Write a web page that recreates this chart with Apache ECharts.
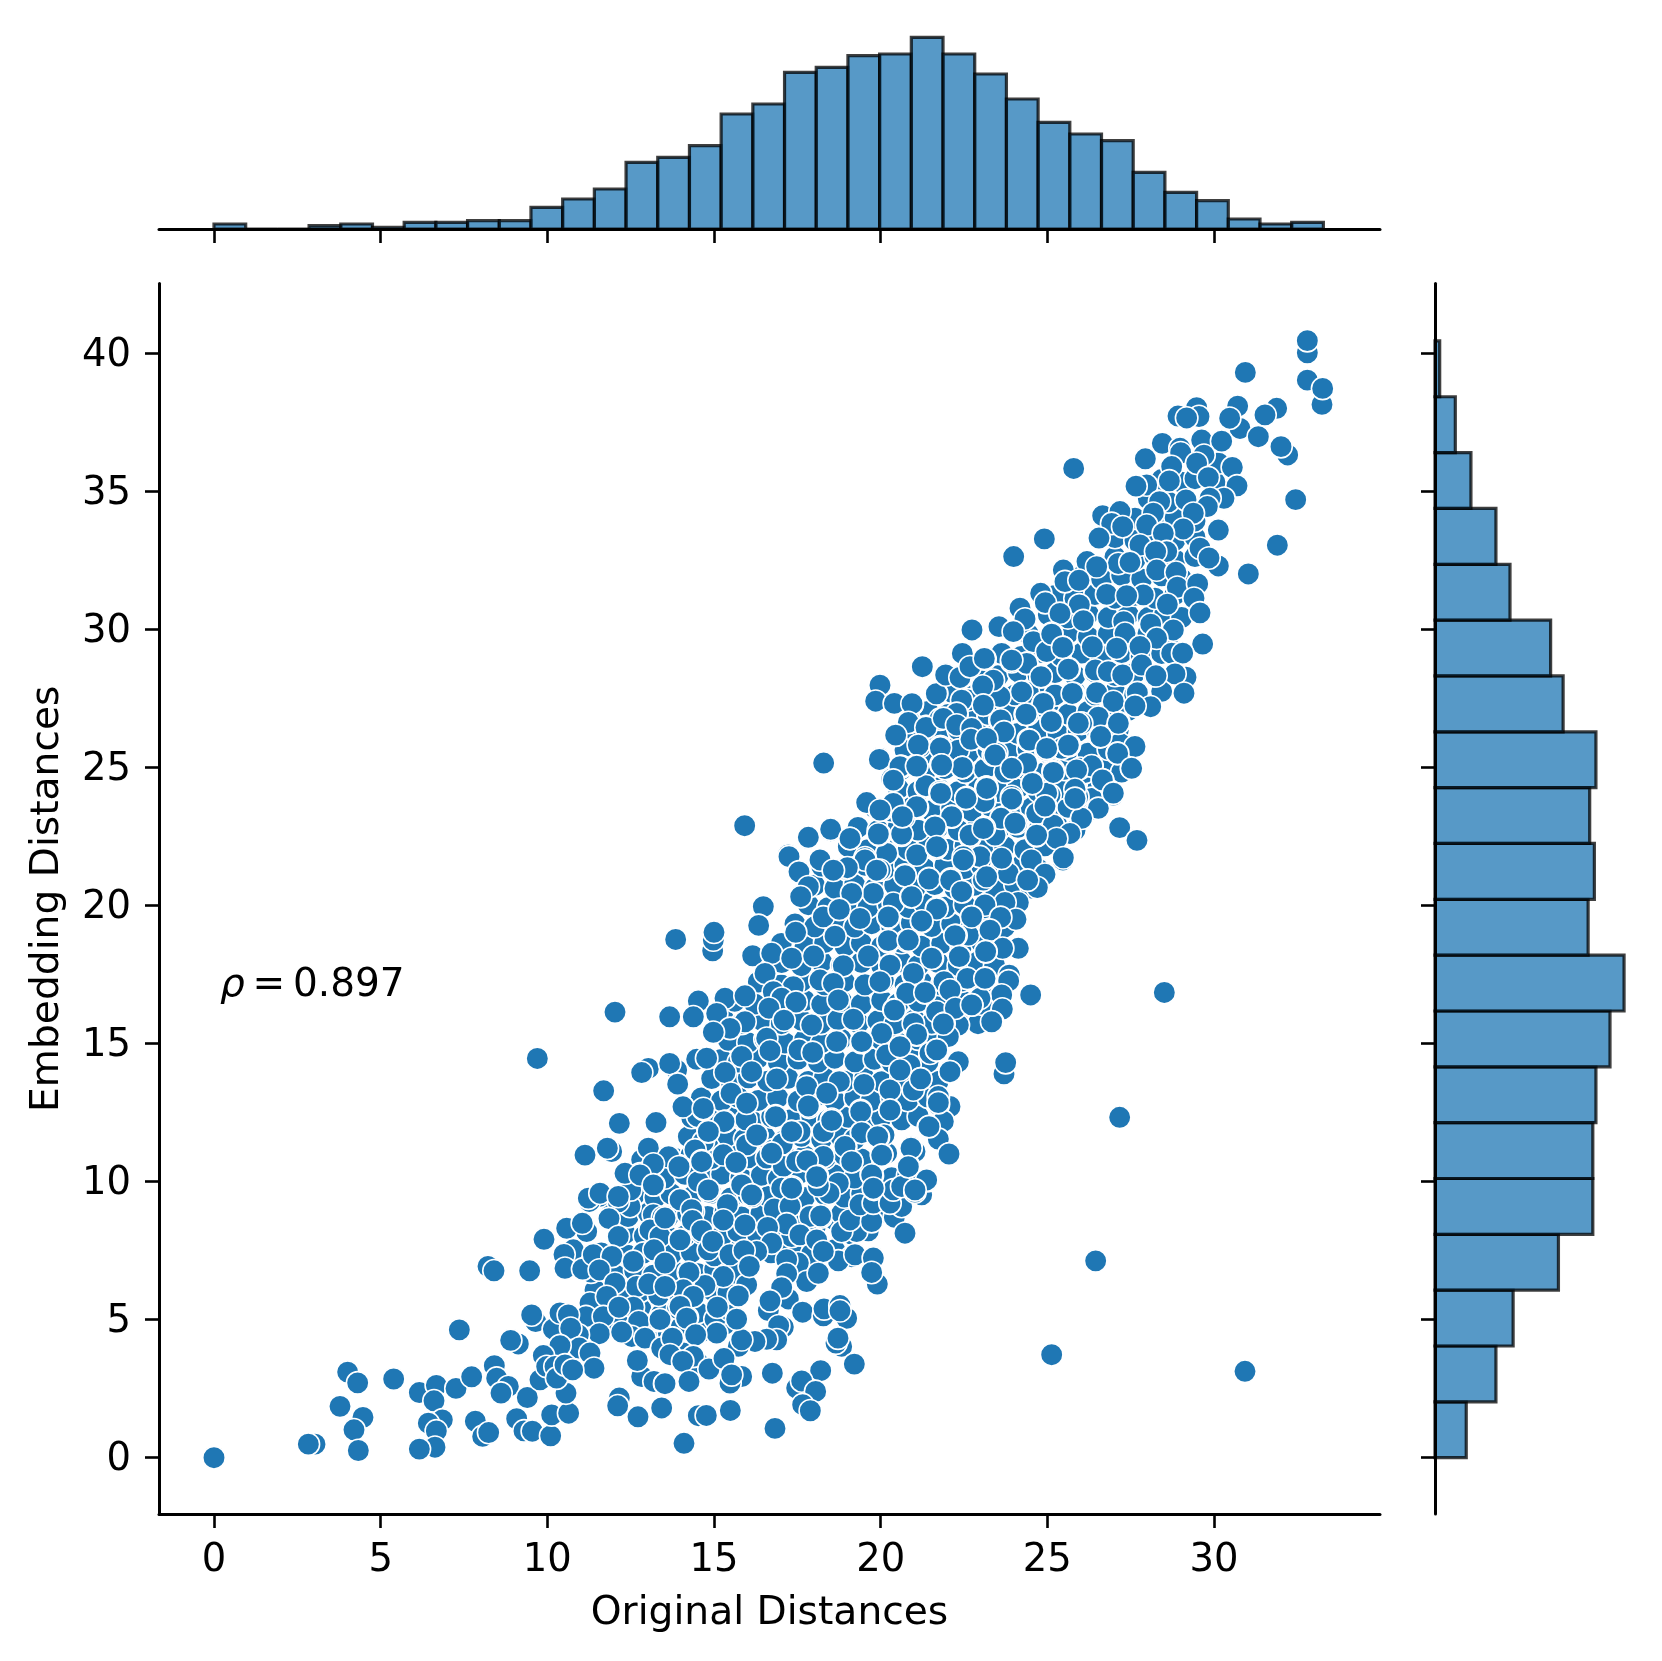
<!DOCTYPE html>
<html><head><meta charset="utf-8">
<style>html,body{margin:0;padding:0;background:#fff}#c{width:1662px;height:1661px}</style>
<script src="https://cdn.jsdelivr.net/npm/echarts@6/dist/echarts.min.js"></script>
</head><body><div id="c"></div>
<script>
const xTickValues=[0,5,10,15,20,25,30];
const yTickValues=[0,5,10,15,20,25,30,35,40];
const xLabel='Original Distances';
const yLabel='Embedding Distances';
const rhoValue='0.897';
const topBinWidth=0.9509;
const rightBinWidth=2.0225;
const topCounts=[3,0,0,2,3,1,4,4,5,5,13,18,24,40,43,50,69,75,94,97,104,105,115,105,93,78,64,57,53,34,22,17,6,3,4];
const rightCounts=[20,39,50,79,101,101,103,112,121,98,102,99,103,82,74,48,39,23,13,3];

const ptsDenseLow=[[12.02,4.71],[12.68,4.58],[13.21,4.66],[13.63,4.52],[14.02,4.74],[14.63,4.57],[15.31,4.82],[11.52,5.34],[12.13,5.22],[12.81,5.38],[13.42,5.19],[13.91,5.41],[14.52,5.26],[15.03,5.02],[15.48,5.33],[11.43,6.07],[12.21,5.91],[12.79,6.02],[13.34,5.88],[13.82,6.11],[14.41,5.94],[14.93,6.08],[15.42,5.97],[11.31,6.72],[12.03,6.63],[12.62,6.78],[13.18,6.61],[13.83,6.74],[14.52,6.66],[15.02,6.81],[15.61,6.69],[17.72,6.74],[11.62,7.42],[12.41,7.33],[13.04,7.47],[13.71,7.36],[14.32,7.44],[15.01,7.31],[15.63,7.48],[16.12,7.35],[16.71,7.42],[17.31,7.62],[17.93,7.38],[18.62,7.53],[19.13,7.28],[12.33,8.12],[12.91,8.03],[13.52,8.17],[14.13,8.04],[14.62,8.14],[15.23,8.02],[15.72,8.19],[16.31,8.07],[16.92,8.13],[17.33,8.01],[18.03,8.31],[18.61,8.62],[19.12,8.11],[19.63,8.22],[11.93,8.84],[12.42,8.73],[13.03,8.86],[13.62,8.71],[14.21,8.83],[14.81,8.74],[15.33,8.88],[15.82,8.72],[16.41,8.86],[17.02,8.74],[17.63,8.81],[18.22,8.72],[18.83,8.84],[19.31,8.73],[19.92,8.83],[20.41,8.71],[12.62,9.53],[13.23,9.42],[13.71,9.56],[14.33,9.44],[14.92,9.57],[15.51,9.41],[16.02,9.53],[16.63,9.46],[17.21,9.58],[17.72,9.43],[18.33,9.52],[18.91,9.44],[19.43,9.57],[20.03,9.46],[20.62,9.53],[13.04,10.24],[13.52,10.13],[14.13,10.26],[14.72,10.12],[15.23,10.27],[15.81,10.14],[16.42,10.23],[16.93,10.11],[17.52,10.26],[18.13,10.12],[18.62,10.24],[19.21,10.13],[19.72,10.27],[20.33,10.14],[20.81,10.22],[13.22,10.93],[13.83,10.84],[14.31,10.96],[14.92,10.83],[15.53,10.94],[16.02,10.86],[16.61,10.97],[17.23,10.83],[17.72,10.93],[18.33,10.84],[18.91,10.96],[19.42,10.82],[14.23,11.63],[14.82,11.52],[15.41,11.66],[15.92,11.54],[16.53,11.62],[17.13,11.51],[17.62,11.64],[18.23,11.53],[18.81,11.62],[19.22,11.54],[14.33,12.32],[15.02,12.23],[15.63,12.36],[16.12,12.22],[16.73,12.34],[17.31,12.24],[17.93,12.37],[18.42,12.23],[19.03,12.33],[19.62,12.21],[20.03,12.34],[20.63,12.24],[21.13,12.36],[14.62,13.03],[15.23,12.93],[15.72,13.06],[16.33,12.94],[16.91,13.04],[17.53,12.92],[18.03,13.07],[18.62,12.94],[19.23,13.03],[19.72,12.93],[20.33,13.04],[20.81,12.94],[21.42,13.06],[14.93,13.73],[15.52,13.62],[16.03,13.76],[16.61,13.64],[17.22,13.74],[17.83,13.63],[18.31,13.76],[18.93,13.64],[19.52,13.73],[20.03,13.62],[20.61,13.74],[21.72,13.63]];

const ptsDenseMid=[[15.22,14.42],[15.73,14.33],[16.31,14.46],[16.93,14.32],[17.52,14.44],[18.13,14.33],[18.62,14.47],[19.23,14.34],[19.81,14.43],[20.33,14.32],[20.91,14.46],[21.42,14.33],[15.43,15.12],[16.02,15.03],[16.53,15.16],[17.13,15.02],[17.72,15.14],[18.23,15.03],[18.81,15.16],[19.42,15.04],[20.03,15.13],[20.52,15.02],[21.13,15.16],[21.62,15.04],[15.32,15.83],[15.83,15.73],[16.41,15.86],[17.02,15.72],[17.63,15.84],[18.21,15.73],[18.72,15.87],[19.33,15.74],[19.92,15.83],[20.43,15.72],[21.02,15.86],[21.53,15.73],[22.31,15.84],[22.92,15.72],[15.62,16.53],[16.23,16.43],[17.72,16.56],[18.23,16.42],[18.83,16.54],[19.42,16.43],[20.03,16.57],[20.52,16.44],[21.13,16.53],[21.72,16.42],[22.43,16.56],[23.02,16.43],[16.33,17.23],[17.02,17.12],[17.63,17.26],[18.32,17.13],[18.91,17.24],[19.53,17.13],[20.12,17.27],[20.73,17.14],[21.22,17.23],[21.83,17.12],[22.42,17.26],[23.03,17.13],[17.03,17.93],[17.62,17.82],[18.23,17.96],[18.83,17.83],[19.42,17.94],[20.03,17.82],[20.62,17.96],[21.13,17.83],[21.72,17.93],[22.33,17.82],[22.91,17.96],[23.42,17.83],[17.02,18.63],[17.73,18.52],[18.32,18.66],[18.93,18.53],[19.42,18.64],[20.03,18.52],[20.63,18.66],[21.22,18.53],[21.83,18.63],[22.42,18.52],[23.03,18.66],[23.52,18.53],[17.43,19.33],[18.02,19.23],[18.63,19.36],[19.22,19.22],[19.73,19.34],[20.33,19.23],[20.92,19.37],[21.53,19.24],[22.13,19.33],[22.72,19.22],[23.23,19.36],[23.72,19.23],[17.83,20.03],[18.42,19.92],[19.03,20.06],[19.62,19.93],[20.23,20.04],[20.83,19.93],[21.32,20.06],[21.93,19.94],[22.52,20.03],[23.13,19.92],[23.72,20.06],[18.02,20.73],[18.63,20.62],[19.22,20.76],[19.83,20.63],[20.42,20.74],[21.03,20.63],[21.62,20.76],[22.23,20.62],[22.82,20.73],[23.43,20.63],[24.03,20.76],[24.52,20.63],[18.23,21.43],[18.92,21.33],[19.53,21.46],[20.12,21.32],[20.73,21.44],[21.32,21.33],[21.93,21.46],[22.52,21.34],[23.03,21.43],[23.62,21.32],[24.23,21.46],[24.72,21.33],[19.03,22.13],[19.62,22.02],[20.23,22.16],[20.82,22.03],[21.43,22.14],[22.02,22.03],[22.53,22.16],[23.13,22.03],[23.72,22.13],[24.33,22.02],[24.92,22.16],[19.32,22.83],[19.93,22.72],[20.53,22.86],[21.12,22.73],[21.73,22.84],[22.33,22.73],[22.92,22.86],[23.53,22.73],[24.12,22.83],[24.73,22.72],[25.32,22.86],[25.83,22.73],[19.83,23.53],[20.32,23.42],[20.93,23.56],[21.52,23.43],[22.13,23.54],[22.73,23.43],[23.32,23.56],[23.93,23.43],[24.52,23.53],[25.13,23.42],[25.62,23.56],[26.23,23.43]];

const ptsDenseHigh=[[20.53,24.23],[21.12,24.13],[21.73,24.26],[22.32,24.12],[22.93,24.24],[23.53,24.13],[24.12,24.26],[24.73,24.13],[25.32,24.23],[25.93,24.12],[26.52,24.26],[20.63,24.93],[21.32,24.82],[21.93,24.96],[22.53,24.83],[23.12,24.94],[23.73,24.83],[24.32,24.96],[24.93,24.82],[25.52,24.93],[26.13,24.82],[26.72,24.96],[27.23,24.83],[20.73,25.63],[21.42,25.52],[22.03,25.66],[22.63,25.53],[23.22,25.64],[23.83,25.53],[24.42,25.66],[25.03,25.52],[25.63,25.63],[26.22,25.52],[26.83,25.66],[21.03,26.33],[21.72,26.22],[22.33,26.36],[22.92,26.23],[23.53,26.34],[24.12,26.23],[24.73,26.36],[25.32,26.22],[25.93,26.33],[26.52,26.22],[27.13,26.36],[21.42,27.03],[22.03,26.92],[22.63,27.06],[23.22,26.93],[23.83,27.04],[24.42,26.93],[25.03,27.06],[25.63,26.93],[26.22,27.03],[26.83,26.92],[27.42,27.06],[22.13,27.73],[22.82,27.62],[23.43,27.76],[24.03,27.63],[24.62,27.74],[25.23,27.63],[25.82,27.76],[26.43,27.63],[27.03,27.73],[27.62,27.62],[28.43,27.76],[23.03,28.43],[23.52,28.32],[24.13,28.46],[24.72,28.33],[25.23,28.44],[25.83,28.33],[26.42,28.46],[27.03,28.33],[27.63,28.43],[28.22,28.32],[23.63,29.13],[24.22,29.02],[24.83,29.16],[25.42,29.03],[26.03,29.14],[26.62,29.03],[27.23,29.16],[27.82,29.03],[28.43,29.13],[24.43,29.83],[25.03,29.72],[25.62,29.86],[26.23,29.73],[26.83,29.84],[27.43,29.73],[28.02,29.86],[28.63,29.73],[25.03,30.53],[25.62,30.42],[26.23,30.56],[26.83,30.43],[27.43,30.54],[28.03,30.43],[28.52,30.56],[29.03,30.43],[25.23,31.23],[25.83,31.12],[26.43,31.26],[27.03,31.13],[27.63,31.24],[28.23,31.13],[28.83,31.26],[26.03,31.93],[26.63,31.82],[27.23,31.96],[27.83,31.83],[28.43,31.94],[29.03,31.83],[27.03,32.63],[27.63,32.52],[28.23,32.66],[28.83,32.53],[29.43,32.64],[27.03,33.33],[27.63,33.22],[28.23,33.36],[28.83,33.23],[29.43,33.34],[27.63,34.03],[28.23,33.92],[28.83,34.06],[29.43,33.93],[28.03,34.73],[28.63,34.62],[28.43,35.43],[29.03,35.33],[29.43,35.46],[30.03,35.33],[30.13,36.03]];

const ptsLowerLeft=[[0,0],[3.03,.49],[2.83,.49],[4.01,3.1],[4.31,2.71],[3.78,1.86],[4.47,1.46],[4.2,1.01],[4.33,.26],[5.39,2.85],[6.16,2.36],[6.67,2.62],[6.6,2.06],[6.85,1.37],[6.43,1.25],[6.67,.97],[6.63,.38],[6.16,.31],[7.26,2.51],[7.73,2.93],[7.36,4.63],[8.22,6.93],[8.4,6.77],[9.47,6.77],[8.41,3.33],[8.48,2.88],[8.83,2.58],[8.61,2.34],[7.84,1.32],[8.06,.77],[8.24,.91],[9.08,1.41],[9.3,.97],[9.55,.96],[9.4,2.18],[10.1,.79],[10.13,1.55],[10.64,1.61],[10.56,2.34],[9.13,4.12],[8.9,4.25],[9.65,4.93],[9.53,5.17],[9.9,7.91],[11.14,10.97],[11.93,11.09],[11.79,11.21],[12.16,12.12],[13.26,12.14],[14.06,12.72],[11.55,9.46],[11.26,9.28],[12.48,9.1],[12.13,9.27],[11.85,8.66],[11.18,8.19],[10.58,8.31],[11.05,8.49],[12.13,8.01],[10.78,7.53],[10.5,7.36],[10.53,6.86],[11.06,6.83],[11.38,7.35],[11.94,7.29],[11.56,6.8],[13.03,11.21],[12.83,10.79],[13.63,10.91],[13.18,10.64],[13.96,10.57],[12.33,10.28],[12.78,10.28],[13.2,9.88],[12.5,9.7],[13.98,9.34],[13.18,8.8],[14.38,8.92],[13.46,8.71],[13.08,8.25],[13.38,8.01],[13.98,7.89],[12.88,7.41],[13.2,7.53],[12.58,7.11],[13.53,7.05],[14.23,6.71],[13.54,6.2],[12.68,6.2],[12.03,6.32],[13.04,6.29],[11.28,5.6],[11.78,5.84],[11.16,5.11],[11.68,5.11],[12.58,5.45],[12.15,5.45],[14.03,5.48],[13.33,4.97],[12.74,4.93],[14.2,5.08],[11.56,4.49],[12.53,4.39],[12.23,4.55],[12.93,4.33],[13.75,4.33],[13.43,3.97],[13.78,3.73],[14.53,3.42],[14.08,3.79],[12.83,2.94],[12.7,3.52],[13.2,2.76],[13.52,2.68],[14.24,2.76],[12.16,2.16],[12.11,1.88],[12.72,1.48],[13.43,1.78],[14.11,.52],[14.53,1.52],[10.18,4.66],[10.93,4.45],[10.38,5.24],[10.63,5.17],[10.7,4.69],[10.96,3.97],[11.28,3.79],[10.38,4.06],[9.88,3.7],[9.78,2.82],[9.98,3.3],[10.23,3.3],[10.28,2.88],[10.53,3.36],[11.4,3.24],[10.76,3.18]];

const ptsLowerMiddle=[[14.51,12.36],[14.68,12.62],[15.33,12.18],[14.68,11.45],[14.83,11.81],[15.96,12.24],[16.85,12.38],[16.28,11.69],[17.33,11.81],[17.85,12.69],[18.53,12.26],[19.4,12.57],[20.28,12.6],[22.08,12.72],[21.73,12.78],[21.88,12.18],[21.43,11.97],[21.73,11.54],[22.05,11],[21.03,11.09],[20.91,11.25],[20.83,10.58],[20.18,11.03],[20.03,10.97],[19.43,11.79],[20.1,11.69],[19.93,11.61],[19.13,10.73],[18.95,11.25],[18.28,11.81],[17.58,11.81],[16.58,10.85],[16.78,11.15],[17.05,11.37],[15.98,11.33],[15.28,10.97],[15.66,10.67],[14.43,11.15],[14.63,10.75],[13.63,10.91],[17.08,10.55],[17.48,10.73],[17.81,10.76],[18.28,10.91],[18.1,10.21],[18.73,9.94],[18.45,9.58],[18.13,9.85],[17.03,9.76],[17.35,9.8],[15.83,9.88],[16.15,9.46],[14.53,10],[14.85,9.62],[13.98,9.34],[15.4,9.16],[16.81,9.01],[17.28,9.1],[15.28,8.61],[15.93,8.43],[17.18,8.47],[16.61,8.34],[14.33,8.98],[14.35,8.59],[14.63,8.22],[13.53,8.68],[13.98,7.89],[14.83,7.53],[14.96,7.83],[16.73,7.77],[15.48,7.35],[16.28,7.47],[15.9,7.5],[17.88,8.74],[18.2,8.76],[19.28,8.19],[18.83,8.19],[19.08,8.61],[19.73,8.55],[19.38,9.16],[19.78,9.22],[19.8,9.72],[19.75,10.21],[20.63,9.1],[20.28,9.22],[20.38,9.7],[20.63,9.82],[21.23,9.52],[21.4,10.03],[21.03,9.62],[20.73,8.13],[17.58,8.07],[18.08,7.89],[17.53,7.05],[17.18,7.17],[18.73,7.13],[18.28,7.47],[19.23,7.35],[19.78,7.23],[19.9,6.29],[19.73,6.71],[17.78,6.38],[18.13,6.68],[17.18,6.66],[17.23,5.75],[17.03,6.16],[16.63,5.33],[16.68,5.68],[17.66,5.27],[18.28,5.14],[18.3,5.39],[18.98,5.05],[18.78,5.51],[18.78,5.32],[17.08,4.73],[16.94,4.78],[16.88,4.27],[16.58,4.29],[16.23,4.21],[15.73,4.03],[15.83,4.27],[18.83,4.03],[18.66,4.15],[18.72,4.33],[19.21,3.39],[15.08,4.51],[15.68,5.02],[15.1,5.45],[15.98,6.26],[15.73,5.86],[16.06,6.93],[15.28,6.56],[14.73,6.24],[14.25,6.71],[14.08,6.08],[13.53,6.2],[14.38,5.84],[13.98,5.48],[13.38,5],[14.18,5.05],[14.45,4.45],[13.75,4.33],[13.68,3.73],[14.38,3.67],[14.06,3.49],[14.85,3.21],[15.3,3.59],[15.83,2.94],[15.48,2.7],[15.53,3],[14.25,2.76],[13.53,2.68],[16.75,3.06],[18.2,3.15],[17.48,2.52],[17.63,2.78],[18.05,2.4],[17.66,1.92],[17.89,1.7],[15.49,1.71],[14.77,1.53],[13.43,1.8],[16.83,1.06],[14.1,.52],[25.13,3.73],[30.93,3.13],[26.45,7.13],[27.17,12.33],[28.51,16.85]];

const ptsCenterRight=[[20.43,26.17],[20.88,26.66],[21.36,26.47],[20.93,27.26],[20.38,27.32],[19.98,25.33],[22.28,26.9],[23.08,27.32],[22.73,26.02],[23.58,26.72],[24.35,26.93],[25.13,26.69],[26.03,26.6],[27.15,26.62],[26.53,26.78],[26.58,26.11],[27.63,25.77],[27.18,25.87],[27.53,24.97],[27.1,25.51],[25.43,25.69],[25.66,25.81],[24.95,25.63],[24.45,25.99],[21.18,25.75],[21.8,25.75],[22.33,25.63],[23.38,25.45],[20.63,25.03],[21.08,25.05],[21.83,25.09],[22.45,25],[23.95,24.97],[25.18,24.91],[25.98,24.97],[26.34,25.05],[26.66,24.54],[24.55,24.42],[23.18,24.28],[20.33,24.57],[21.35,24.34],[21.76,24.06],[22.56,23.88],[23.13,23.82],[23.94,23.84],[25.08,24],[26.98,24],[26.33,23.88],[25.91,23.87],[26.53,23.52],[24.95,23.6],[20.03,23.46],[21.1,23.55],[20.68,23.19],[22.14,23.22],[23.63,23.19],[24.68,23.34],[26.03,23.16],[21.65,22.85],[24.08,22.97],[23.11,22.82],[25.18,22.91],[25.68,22.61],[24.67,22.53],[27.17,22.82],[27.69,22.36],[19.98,22.55],[20.63,22.55],[21.68,22.09],[22.68,22.49],[25.28,22.43],[23.43,22.55],[25.47,21.65],[24.52,21.65],[22.98,21.77],[22.5,21.68],[23.66,21.5],[20.18,21.89],[21.08,21.83],[24.93,21.13],[23.83,21.16],[24.7,20.65],[24.41,20.92],[19.98,21.28],[20.73,21.1],[21.45,20.98],[22.1,20.96],[23.08,20.92],[22.45,20.5],[20.38,20.08],[20.91,20.32],[24.13,20.11],[23.73,20.11],[23.13,20.02],[21.68,19.9],[20.23,19.57],[21.23,19.41],[22.73,19.59],[24.06,19.5],[23.6,19.57],[22.63,18.93],[22.26,18.91],[23.28,19.11],[20.23,18.69],[20.78,18.73],[24.13,18.45],[23.66,18.45],[23.16,18.33],[21.55,18.09],[22.36,18.15],[20.28,17.84],[20.98,17.48],[23.86,17.48],[22.6,17.36],[23.14,17.36],[23.84,17.27],[21.9,17.24],[22.08,16.94],[20.08,17.3],[21.33,16.84],[20.76,16.82],[24.5,16.76],[23.63,16.76],[22.98,16.64],[22.73,16.4],[22.25,16.26],[23.65,16.25],[21.68,16.15],[20.4,16.22],[23.36,15.77],[22.33,15.67],[21.9,15.73],[20.98,15.73],[22.03,15.25],[21.08,15.31],[20.03,15.37],[20.58,14.89],[21.48,14.65],[21.68,14.77],[20.18,14.59],[22.33,14.34],[22.08,13.98],[23.7,13.9],[23.75,14.31],[20.88,14.22],[21.2,13.72],[20.28,13.32],[20.98,13.32],[21.73,13.08]];

const ptsUpperRight=[[32.8,40.02],[32.8,40.46],[30.94,39.31],[32.8,39.03],[33.24,38.15],[33.26,38.73],[30.71,38.09],[29.48,38.03],[31.88,38.01],[31.53,37.77],[28.92,37.73],[29.55,37.71],[29.18,37.66],[30.78,37.28],[30.47,37.65],[31.33,36.98],[28.45,36.74],[29.63,36.86],[30.23,36.82],[28.98,36.56],[29,36.4],[32.21,36.32],[32.01,36.62],[29.7,36.31],[27.94,36.18],[25.79,35.83],[29.48,36.02],[28.73,35.9],[30.55,35.87],[29.83,35.5],[28.66,35.38],[30.69,35.2],[27.98,35.23],[27.66,35.19],[32.45,34.7],[30.3,34.75],[29.88,34.75],[29.16,34.69],[28.37,34.63],[29.8,34.45],[26.66,34.12],[27.18,34.27],[28.18,34.21],[29.38,34.21],[26.93,33.84],[27.26,33.72],[27.98,33.78],[29.08,33.64],[30.13,33.6],[26.55,33.31],[24.91,33.28],[28.48,33.48],[27.78,33.06],[28.58,32.82],[28.25,32.82],[31.9,33.05],[29.58,32.94],[30.13,32.3],[29.85,32.59],[31.03,32.01],[23.99,32.64],[25.48,32.15],[26.19,32.46],[27.13,32.39],[27.48,32.43],[28.28,32.15],[28.86,32.07],[26.48,32.27],[25.53,31.73],[25.95,31.78],[28.9,31.53],[29.51,31.65],[27.88,31.25],[26.78,31.27],[27.38,31.22],[24.8,31.31],[24.94,30.97],[29.4,31.13],[28.6,30.91],[25.96,30.89],[24.18,30.77],[25.38,30.58],[29.58,30.6],[24.33,30.38],[22.74,29.98],[23.55,30.1],[26.08,30.32],[28.1,30.19],[27.29,30.28],[28.78,29.98],[29.66,29.47],[28.28,29.68],[25.13,29.86],[27.33,29.86],[23.98,29.92],[24.58,29.56],[25.46,29.35],[26.35,29.37],[27.08,29.32],[27.78,29.38],[22.43,29.11],[23.13,28.93],[21.25,28.65],[24.98,29.2],[28.73,29.14],[29.06,29.14],[21.95,28.39],[22.68,28.65],[23.93,28.83],[24.38,28.77],[25.65,28.57],[26.44,28.53],[26.83,28.47],[27.26,28.35],[27.83,28.71],[29.16,28.27],[28.83,28.39],[28.26,28.32],[29.1,27.69],[27.7,27.71],[22.36,28.29],[24.81,28.29],[21.68,27.69],[23.05,27.93],[20.95,27.3],[23.08,27.26],[25.78,27.69],[26.48,27.71],[24.43,27.71],[23.58,27.57],[22.63,27.45],[24.88,27.33],[26.98,27.39],[28.1,27.2],[27.63,27.23],[22.28,26.9],[24.34,26.93],[23.58,26.7],[25.13,26.67],[26.53,26.82],[26.03,26.6],[27.13,26.6],[20.88,26.66],[21.36,26.48],[21.78,26.75],[22.73,26.02],[24.43,26],[26.6,26.12],[27.63,25.76],[25.65,25.79],[27.11,25.51],[21.78,25.75],[23.18,26],[24.96,25.64],[23.48,25.52],[21.05,25.06],[21.81,25.12],[22.45,25],[23.95,24.97],[26.33,25.06],[27.53,24.97],[25.18,24.85],[26.65,24.55],[24.55,24.45],[21.35,24.31],[23.16,24.28],[26.98,24.07],[24.98,24.07],[23.93,23.95],[25.91,23.95]];

const ptsUpperCenter=[[19.98,27.98],[19.85,27.4],[20.41,27.32],[20.94,27.31],[21.67,27.67],[21.95,28.35],[22.38,28.26],[22.45,29.13],[22.68,28.65],[23.11,28.95],[24.38,28.77],[23.93,28.89],[24.81,28.29],[25.13,29.83],[25.46,29.35],[25.63,28.56],[23.38,28.16],[23.06,27.95],[24.23,27.74],[25.75,27.68],[24.88,27.32],[22.43,27.44],[23.08,27.26],[22.28,26.96],[20.83,26.63],[20.45,26.17],[21.36,26.45],[21.88,26.78],[22.28,26.54],[22.73,26.41],[23.6,26.72],[24.36,26.93],[25.12,26.66],[25.93,26.6],[23.7,26.29],[22.71,26.02],[23.18,26.05],[24.46,25.99],[25.63,25.81],[24.98,25.69],[21.13,25.81],[21.79,25.71],[19.96,25.29],[20.61,25.03],[21.06,25.03],[21.82,25.09],[22.45,25],[23.43,25.45],[24.38,25.15],[23.93,24.97],[25.18,24.82],[18.29,25.16],[25.88,24.91],[20.33,24.58],[21.36,24.34],[21.78,24.12],[23.18,24.27],[24.55,24.42],[25.83,24.21],[22.58,23.91],[23.1,23.76],[23.93,23.86],[25.83,23.88],[24.93,23.6],[19.58,23.74],[20.38,23.7],[19.96,23.46],[21.08,23.55],[20.7,23.19],[22.13,23.22],[21.63,22.85],[23.61,23.16],[24.03,22.98],[23.11,22.82],[24.68,22.55],[19.94,22.56],[19.08,22.43],[18.5,22.71],[17.82,22.43],[17.23,21.83],[20.63,22.59],[22.68,22.55],[21.68,22.09],[19.53,21.73],[22.48,21.77],[23.63,21.71],[25.48,21.73],[18.18,21.65]];

const ptsMiddleLeft=[[20.58,25.03],[21.08,25.05],[21.83,25.09],[20.38,24.54],[21.8,24.06],[23.18,24.24],[22.56,23.88],[19.58,23.73],[21.08,23.58],[19.98,23.46],[22.13,23.22],[15.92,22.89],[18.5,22.76],[17.83,22.47],[19.08,22.43],[20.65,23.22],[19.93,22.59],[23.08,22.79],[21.63,22.85],[17.25,21.77],[17.55,21.22],[19.53,21.65],[19,21.37],[18.58,21.28],[19.88,21.28],[20.73,21.08],[21.68,22.13],[22.48,21.65],[17.83,20.68],[17.6,20.32],[19.78,20.44],[20.93,20.32],[21.45,20.96],[22.1,20.92],[21.68,19.87],[22.43,20.5],[23.18,21.04],[19.13,20.44],[16.48,19.96],[18.28,19.59],[18.76,19.86],[19.38,19.53],[20.23,19.59],[21.23,19.44],[22.73,19.59],[16.34,19.28],[13.85,18.77],[14.96,18.36],[14.98,18.75],[15,19.03],[17.45,19.03],[18.63,18.89],[20.23,18.73],[22.23,18.91],[20.83,18.75],[16.16,18.18],[16.73,18.27],[17.33,18.09],[17.99,18.17],[19.63,18.17],[20.28,17.84],[21.53,18.09],[22.36,18.15],[23.15,18.33],[18.88,17.82],[20.98,17.54],[16.53,17.54],[18.18,17.3],[18.58,17.18],[19.98,17.24],[23.13,17.36],[20.78,16.82],[22.08,16.94],[21.33,16.85],[18.73,16.58],[17.38,17.06],[16.78,16.88],[17.03,16.64],[17.46,16.5],[15.33,16.64],[15.93,16.73],[14.53,16.54],[12.03,16.14],[13.67,15.97],[14.38,15.97],[15.08,16.09],[16.65,16.28],[20.41,16.21],[22.24,16.28],[22.73,16.4],[19.18,15.88],[15.93,15.79],[17.1,15.85],[17.93,15.67],[21.88,15.71],[23.33,15.79],[21.08,15.33],[15.48,15.55],[14.98,15.41],[18.68,15.07],[19.43,15.07],[21.68,14.77],[16.58,15.19],[16.68,14.74],[17.55,14.77],[17.96,14.68],[20.58,14.89],[9.7,14.46],[13.03,14.1],[12.83,13.95],[13.88,14.04],[13.67,14.28],[14.48,14.43],[14.78,14.47],[15.83,14.53],[15.33,13.95],[16.13,13.98],[16.88,13.72],[18.76,13.62],[21.2,13.72],[19.5,13.52],[22.08,13.98],[13.91,13.53],[17.78,13.44],[11.69,13.29],[20.58,14.04],[18.38,13.2],[15.51,13.2],[21.73,12.86],[14.07,12.71],[14.68,12.65],[15.98,12.84],[17.83,12.74],[16.85,12.35],[19.4,12.53],[20.28,12.59],[18.53,12.21],[12.16,12.11],[13.26,12.14],[15.3,12.17],[14.83,11.81],[16.28,11.69],[17.33,11.81],[19.43,11.77],[21.45,11.99],[19.91,11.63],[18.93,11.27],[20.91,11.21],[22.05,11],[11.13,10.96],[11.8,11.21],[13.03,11.21],[13.64,10.9],[14.63,10.72],[15.66,10.69],[16.73,11.03],[17.79,10.76],[20.03,10.96],[20.83,10.54],[21.38,10.06],[19.13,10.72],[13.18,10.64],[13.95,10.54],[12.33,10.3],[12.78,10.24],[13.18,9.88],[14.83,9.7],[16.13,9.52],[17.33,9.76],[18.08,10.18],[19.73,10.24],[19.78,9.76],[21.03,9.7],[11.23,9.4],[11.58,9.58],[12.13,9.46]];

const scatterPoints=[].concat(ptsDenseLow,ptsDenseMid,ptsDenseHigh,ptsLowerLeft,ptsLowerMiddle,ptsCenterRight,ptsUpperRight,ptsUpperCenter,ptsMiddleLeft);
const topBins=topCounts.map((c,i)=>[i*topBinWidth,(i+1)*topBinWidth,c]);
const rightBins=rightCounts.map((c,i)=>[i*rightBinWidth,(i+1)*rightBinWidth,c]);

const font='"DejaVu Sans"';
const fill='rgba(31,119,180,0.75)', edge='rgba(0,0,0,0.75)';
const axisLine={show:true,lineStyle:{color:'#000',width:3}};
const axisTick={show:true,length:14,lineStyle:{color:'#000',width:2.6}};
const xExtent={min:-1.65,max:34.98}, yExtent={min:-2.04,max:42.53};

const chart=echarts.init(document.getElementById('c'),null,{renderer:'canvas'});
chart.setOption({
  animation:false,backgroundColor:'#fff',
  grid:[
    {left:159,width:1221,top:283.5,height:1230.5},
    {left:159,width:1221,top:29,height:200},
    {left:1435,width:200,top:283.5,height:1230.5}
  ],
  xAxis:[
    {gridIndex:0,type:'value',...xExtent,splitLine:{show:false},axisLine:{...axisLine,onZero:false},
     axisTick:{...axisTick,customValues:xTickValues},
     axisLabel:{show:true,customValues:xTickValues,margin:27,color:'#000',fontFamily:font,fontSize:38.5},
     name:xLabel,nameLocation:'middle',nameGap:80,nameTextStyle:{color:'#000',fontFamily:font,fontSize:39.2}},
    {gridIndex:1,type:'value',...xExtent,splitLine:{show:false},axisLine:{...axisLine,onZero:false},z:5,
     axisTick:{...axisTick,customValues:xTickValues},axisLabel:{show:false}},
    {gridIndex:2,type:'value',min:0,max:128,show:false}
  ],
  yAxis:[
    {gridIndex:0,type:'value',...yExtent,splitLine:{show:false},axisLine:{...axisLine,onZero:false},
     axisTick:{...axisTick,customValues:yTickValues},
     axisLabel:{show:true,customValues:yTickValues,margin:28,verticalAlign:'top',lineHeight:5,color:'#000',fontFamily:font,fontSize:38.5},
     name:yLabel,nameLocation:'middle',nameGap:92,nameTextStyle:{color:'#000',fontFamily:font,fontSize:39.2}},
    {gridIndex:1,type:'value',min:0,max:120,show:false},
    {gridIndex:2,type:'value',...yExtent,splitLine:{show:false},axisLine:{...axisLine,onZero:false},z:5,
     axisTick:{...axisTick,customValues:yTickValues},axisLabel:{show:false}}
  ],
  series:[
    {type:'scatter',xAxisIndex:0,yAxisIndex:0,data:scatterPoints,symbol:'circle',symbolSize:22.5,large:false,
     progressive:0,clip:false,itemStyle:{color:'#1f77b4',opacity:1,borderColor:'#fff',borderWidth:1.6}},
    {type:'custom',xAxisIndex:1,yAxisIndex:1,data:topBins,encode:{x:[0,1],y:2},clip:false,
     renderItem:(p,api)=>{const a=api.coord([api.value(0),0]),b=api.coord([api.value(1),api.value(2)]);
       return {type:'rect',shape:{x:a[0],y:b[1],width:b[0]-a[0],height:a[1]-b[1]},style:{fill,stroke:edge,lineWidth:3.2}};}},
    {type:'custom',xAxisIndex:2,yAxisIndex:2,data:rightBins,encode:{x:2,y:[0,1]},clip:false,
     renderItem:(p,api)=>{const a=api.coord([0,api.value(0)]),b=api.coord([api.value(2),api.value(1)]);
       return {type:'rect',shape:{x:a[0],y:b[1],width:b[0]-a[0],height:a[1]-b[1]},style:{fill,stroke:edge,lineWidth:3.2}};}}
  ],
  graphic:[{type:'text',left:220,top:966,style:{text:'{i|ρ}\u2009=\u2009'+rhoValue,fill:'#000',font:'39px "DejaVu Sans"',
    rich:{i:{fontFamily:font,fontStyle:'italic',fontSize:39,fill:'#000'}}}}]
});
</script></body></html>
